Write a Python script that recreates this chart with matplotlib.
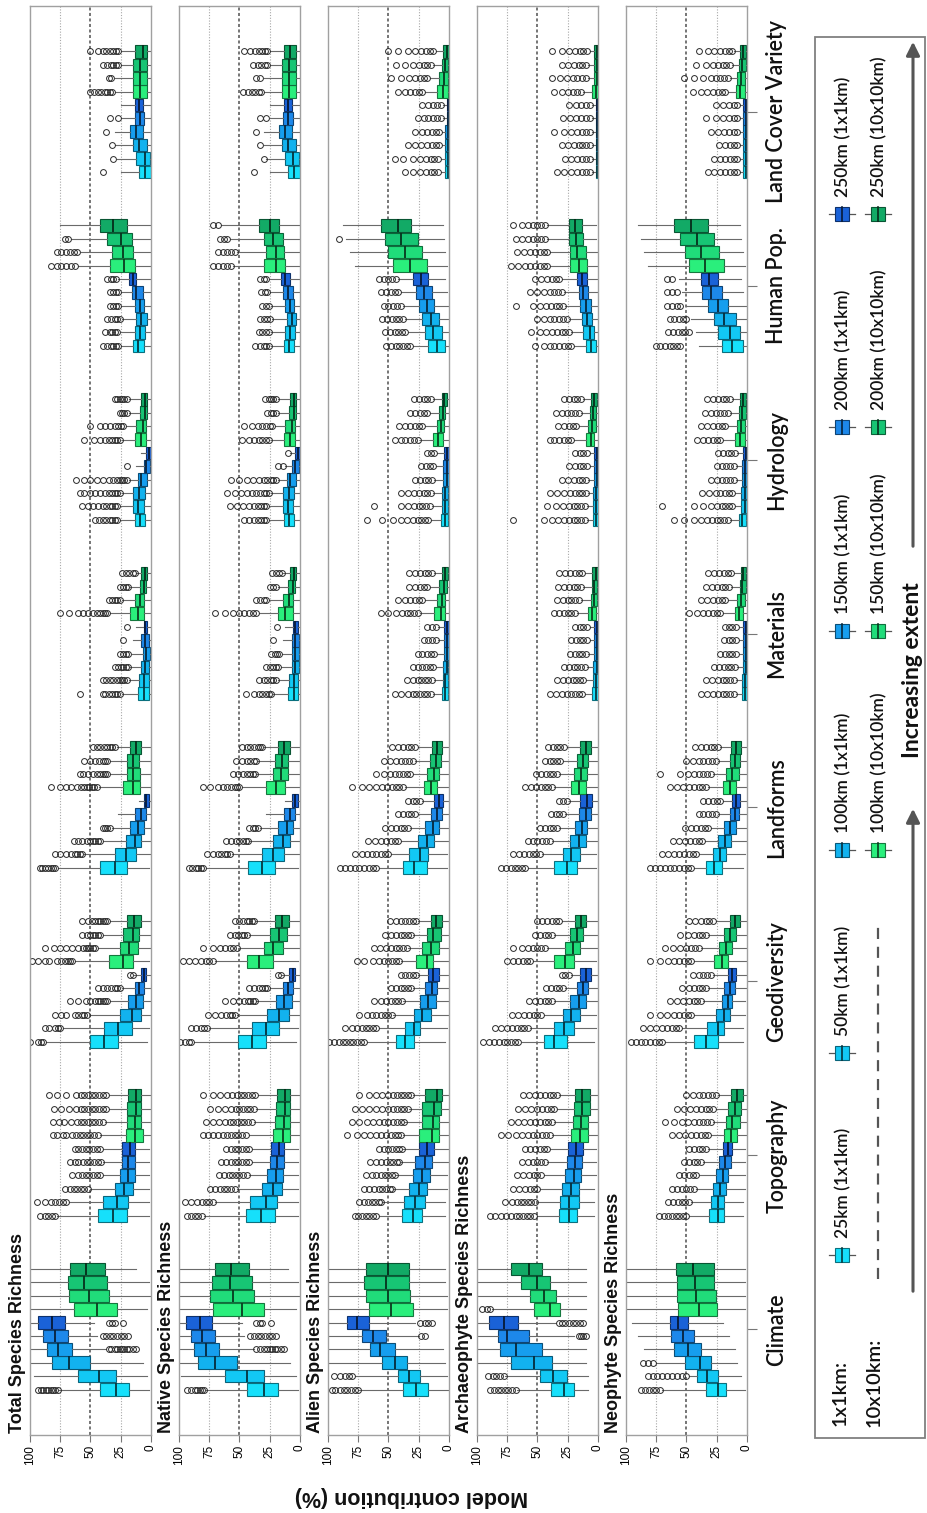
import matplotlib
matplotlib.use("Agg")
import matplotlib.pyplot as plt
from matplotlib.patches import Rectangle, FancyArrowPatch
from matplotlib.lines import Line2D
from matplotlib.transforms import blended_transform_factory
import matplotlib.colors as mcolors
import numpy as np

# ---------------- data ----------------
CATEGORIES = ["Climate", "Topography", "Geodiversity", "Landforms", "Materials",
              "Hydrology", "Human Pop.", "Land Cover Variety"]
SERIES = ["25km (1x1km)", "50km (1x1km)", "100km (1x1km)", "150km (1x1km)",
          "200km (1x1km)", "250km (1x1km)", "100km (10x10km)", "150km (10x10km)",
          "200km (10x10km)", "250km (10x10km)"]
PANEL_TITLES = ["Total Species Richness", "Native Species Richness", "Alien Species Richness",
                "Archaeophyte Species Richness", "Neophyte Species Richness"]
VALUE_TICKS = [0, 25, 50, 75, 100]

# --- Total species richness ---
TOTAL_Q3 = [[42,60,82,86,89,93, 64,68,69,67],[44,40,30,26,24,24, 21,20,20,19],[50,39,26,19,13,8, 35,26,23,20],
            [42,30,21,17,13,6, 23,20,20,17],[11,10,8,7,8,6, 17,13,9,8],[13,15,15,11,6,4, 13,12,9,8],
            [15,13,12,13,16,18, 34,32,36,42],[10,12,15,17,13,13, 15,15,15,13]]
TOTAL_MED = [[29,43,68,77,79,82, 45,51,55,54],[31,28,22,19,19,17, 13,13,12,12],[39,27,16,12,10,6, 23,18,15,14],
             [30,21,13,11,8,4, 15,15,15,12],[6,6,5,4,5,5, 11,9,6,5],[9,11,10,8,4,2, 8,7,5,5],
             [11,9,8,9,12,15, 22,23,25,31],[5,5,10,12,9,10, 9,9,9,7]]
TOTAL_Q1 = [[18,29,50,65,69,71, 28,35,36,38],[20,19,15,13,13,13, 7,8,8,8],[27,16,8,7,6,4, 15,11,10,8],
            [20,12,8,6,4,2, 9,9,10,8],[2,2,2,1,2,3, 6,6,4,3],[5,6,5,3,1,0, 4,4,3,3],
            [6,5,3,6,7,12, 13,15,16,20],[0,1,3,7,6,7, 3,3,3,3]]
TOTAL_WHI = [[76,97,100,100,100,100, 100,100,100,100],[78,68,50,40,40,40, 42,38,35,35],[87,73,50,34,24,14, 63,44,40,34],
             [77,55,40,32,27,10, 43,34,34,28],[24,18,17,16,15,12, 34,24,17,12],[26,26,24,18,12,8, 24,21,18,18],
             [25,25,24,25,25,27, 60,58,66,75],[25,28,30,30,25,25, 30,30,25,25]]
TOTAL_WLO = [[2,3,7,37,45,47, 3,0,2,12],[2,2,2,2,2,2, 1,1,1,1],[3,2,1,1,1,1, 2,1,1,1],[2,1,1,1,1,0, 1,1,1,1],
             [0,0,0,0,0,0, 0,0,0,0],[0,0,0,0,0,0, 0,0,0,0],[0,0,0,0,0,0, 1,1,1,0],[0,0,0,0,0,0, 0,0,0,0]]
TOTAL_OUT = [
    [[77,79,81,83,85,87,89,91,93],[],[],[12,15,18,20,22,24,26,28,30,33,35],[19,22,25,28,31,34,37,40],[23,30,32,35],[],[],[],[]],
    [[79,82,85,88,92],[70,73,76,79,83,88,94],[52,55,58,61,64,67,71],[42,45,48,51,54,57,60,65],[41,44,47,50,53,56,60,63,67],
     [42,45,48,51,54,57,60,63],[44,47,50,53,56,59,62,65,70,73,78,81],[40,43,46,49,52,55,58,61,66,72,76,81],
     [37,40,43,46,49,52,55,58,62,68,74,80],[37,40,43,46,49,52,55,58,62,70,78,84]],
    [[89,91,93,100],[75,77,79,84,88],[53,55,57,60,63,70,74,79],[36,38,40,42,44,46,50,54,60,67],[26,28,30,33,36,40,44],[15,17],
     [65,67,69,71,74,78,84,88,93,98],[46,48,50,52,54,56,60,65,70,75,80,88],[42,44,46,48,50,53,57],[36,38,40,42,44,46,49,52,57]],
    [[79,81,83,85,88,90,92],[57,59,61,63,66,70,75,79],[42,44,46,48,50,53,57,60,64],[34,36,38,40],[],[],
     [45,47,49,51,53,55,58,61,66,70,75,83],[36,38,40,42,45,48,52,56,59],[36,38,40,43,46,50,55],[30,32,34,36,39,42,45,48]],
    [[26,28,30,32,35,38,40,59],[20,22,24,26,28,31,34,37,40],[19,21,23,25,27,30],[19,21,23,26],[23],[20],
     [36,38,40,42,45,48,52,56,60,68,75],[26,28,30,32,35],[19,21,23,26],[13,15,18,21,24]],
    [[28,30,32,34,37,40,43,46],[28,30,32,34,37,40,44,48,52,57],[26,28,30,32,35,38,42,46,50,55,59],
     [20,22,24,26,28,31,35,40,45,50,55,62],[20],[],[26,28,30,32,35,38,42,47,55],[23,25,27,30,34,38,42,50],[20,22,24,26],[20,22,24,26,28,30]],
    [[27,29,31,33,36,40],[28,30,32,34,38],[26,28,30,33,36],[27,29,31,34],[27,29,31,34],[29,31,33,36],
     [63,66,70,74,78,83],[61,64,67,70,74,78],[69,71],[]],
    [[40],[31],[32],[37],[27,34],[],[32,34,36,38,41,44,47,50],[33,35],[27,29,31,33,36,40],[27,29,31,34,37,40,44,50]],
]

# --- Native species richness ---
NATIVE_Q3 = [[44,62,84,88,90,94, 72,74,73,70],[45,41,31,27,25,24, 22,21,20,19],[51,40,27,20,14,9, 44,30,25,21],
             [43,31,22,18,13,7, 28,22,21,18],[10,9,7,7,7,6, 18,14,10,8],[13,14,14,11,7,4, 13,12,9,8],
             [13,12,11,12,14,16, 30,28,30,34],[10,12,15,17,14,13, 15,15,15,13]]
NATIVE_MED = [[30,44,70,78,81,83, 48,55,58,57],[32,28,22,20,19,17, 14,13,12,12],[40,28,17,13,10,6, 34,22,17,15],
              [31,22,14,11,8,4, 20,16,15,13],[5,5,4,4,4,4, 12,9,6,5],[9,10,9,8,4,2, 8,7,5,5],
              [9,8,7,8,10,12, 20,20,22,25],[5,6,10,12,10,10, 9,9,9,8]]
NATIVE_Q1 = [[18,30,52,67,70,73, 30,38,40,42],[21,19,15,14,13,13, 8,8,8,8],[28,17,9,7,6,4, 22,14,11,9],
             [21,13,8,6,4,2, 12,10,10,8],[2,2,1,1,1,2, 6,6,4,3],[5,6,5,3,1,0, 4,4,3,3],
             [5,4,3,5,6,8, 12,13,14,17],[0,1,3,7,6,7, 3,3,3,3]]
NATIVE_WHI = [[78,98,100,100,100,100, 100,100,100,100],[79,70,52,42,40,40, 42,38,36,35],[88,75,52,36,25,15, 70,50,42,36],
              [78,56,42,33,28,12, 48,36,35,30],[22,18,16,15,14,12, 34,26,18,14],[26,26,24,18,12,8, 24,21,18,18],
              [24,24,23,24,25,26, 55,52,58,65],[25,28,30,30,25,25, 30,30,25,25]]
NATIVE_WLO = [[2,3,8,38,46,48, 3,1,2,10],[2,2,2,2,2,2, 1,1,1,1],[3,2,1,1,1,1, 2,1,1,1],[2,1,1,1,1,0, 1,1,1,1],
              [0,0,0,0,0,0, 0,0,0,0],[0,0,0,0,0,0, 0,0,0,0],[0,0,0,0,0,0, 1,1,1,0],[0,0,0,0,0,0, 0,0,0,0]]
NATIVE_OUT = [
    [[79,81,83,85,87,90,93],[],[],[13,16,19,21,23,25,27,30,33,36],[20,23,26,29,32,35,38,41],[24,31,33,36],[],[],[],[]],
    [[81,84,87,90,93],[72,75,78,81,85,90,95],[54,57,60,63,66,70,74],[44,47,50,53,56,59,63,67],[42,45,48,51,54,57,61,65],
     [42,45,48,51,54,57,61],[45,48,51,54,57,60,64,68,72,76,80],[40,43,46,49,52,55,58,62,67,72,78],
     [38,41,44,47,50,53,57,62,68,74],[37,40,43,46,49,52,56,60,66,72,80]],
    [[90,92,95,99],[77,79,82,86,90],[54,56,58,61,65,70,76],[37,39,41,43,46,50,55,62],[27,29,31,34,38,42],[16,18],
     [72,75,78,82,87,92,97],[52,55,58,62,66,72,80],[44,46,48,51,54,58],[38,40,42,44,47,50,54]],
    [[80,82,84,86,89,92],[58,60,62,65,68,72,77],[43,45,47,50,53,57,61],[35,37,39,42],[],[],
     [50,52,54,57,60,64,68,74,80],[37,39,41,44,47,51,55],[36,38,41,44,48,53],[31,33,35,38,41,44,48]],
    [[24,26,28,31,34,38,45],[20,22,24,27,30,34],[18,20,22,25,28],[17,19,21,24],[22],[19],
     [36,39,42,46,50,55,62,70],[28,30,33,36],[20,22,25],[15,17,20,23]],
    [[28,30,32,35,38,42,46],[28,30,32,35,38,42,47,52,58],[26,28,30,33,36,40,44,49,54,60],[20,22,24,27,30,34,39,44,50,57],
     [14,18],[10],[26,28,31,34,38,42,48],[23,25,28,31,35,40,46],[20,22,24,27],[20,22,24,26,29]],
    [[26,28,30,33,37],[26,28,31,34],[25,27,30,33],[26,28,31],[27,29,32],[28,30,33],
     [57,60,64,68,72],[54,57,60,64,68],[60,63,66],[68,72]],
    [[38],[30],[33],[36],[28,33],[],[32,34,37,40,43,47],[33,36],[27,29,32,35,39],[27,29,31,34,37,41,46]],
]

# --- Alien species richness ---
ALIEN_Q3 = [[38,42,55,65,72,84, 66,69,70,69],[39,37,33,30,28,25, 25,22,22,20],[44,36,29,24,20,17, 27,22,18,15],
            [38,33,26,20,15,12, 21,18,16,14],[6,5,5,4,4,4, 12,10,8,6],[7,6,6,5,5,4, 13,10,8,6],
            [17,20,22,25,27,30, 46,50,53,56],[3,3,3,3,2,2, 10,8,6,5]]
ALIEN_MED = [[27,33,45,57,63,76, 48,50,52,50],[30,28,25,22,20,18, 14,13,12,10],[36,29,22,17,14,13, 18,15,13,11],
             [29,24,18,13,10,8, 15,12,11,10],[3,3,2,2,2,2, 7,6,4,3],[3,3,3,2,2,2, 9,7,5,4],
             [10,13,15,18,21,23, 32,36,40,42],[1,1,1,1,1,1, 5,4,3,2]]
ALIEN_Q1 = [[17,24,35,45,52,66, 30,32,33,33],[22,20,18,16,14,12, 8,8,7,6],[29,24,15,11,10,8, 13,8,7,6],
            [18,17,12,8,6,5, 10,8,7,6],[1,1,1,0,0,0, 3,3,2,1],[1,1,1,0,0,0, 5,4,3,2],
            [3,6,8,12,14,17, 18,22,26,31],[0,0,0,0,0,0, 1,1,1,0]]
ALIEN_WHI = [[74,78,100,100,100,100, 100,100,100,100],[58,55,46,44,40,38, 38,36,33,30],[68,58,46,38,30,26, 40,34,30,26],
             [58,48,40,32,26,22, 36,30,28,26],[13,12,11,10,9,9, 24,20,16,12],[15,14,13,12,11,10, 24,20,16,13],
             [30,34,36,38,40,42, 78,82,85,88],[7,7,6,6,5,5, 20,16,13,11]]
ALIEN_WLO = [[1,2,3,5,25,28, 2,2,3,3],[3,3,2,2,1,1, 0,0,0,0],[3,2,1,1,1,1, 1,0,0,0],[2,2,1,0,0,0, 1,0,0,0],
             [0,0,0,0,0,0, 0,0,0,0],[0,0,0,0,0,0, 0,0,0,0],[0,0,0,1,2,3, 2,3,4,5],[0,0,0,0,0,0, 0,0,0,0]]
ALIEN_OUT = [
    [[75,78,81,84,87,90,94,97],[80,83,86,90,95],[],[],[20,23],[14,17,20,24],[],[],[],[]],
    [[60,63,66,69,72,75,78],[56,58,61,64,67,70,74],[47,49,52,55,58,62,66,70],[45,47,50,53,56,60,64,69],[41,43,46,49,52,56,60,65],
     [39,41,44,47,50,54,58],[40,42,45,48,52,56,60,65,70,76,84],[37,40,43,46,50,54,58,63,68,74,80],
     [34,37,40,43,46,50,55,60,66,72,78],[31,34,37,40,43,46,50,55,60,66,74]],
    [[70,73,76,79,82,85,88,91,95,99],[60,63,66,69,72,76,80,86],[47,50,53,56,60,64,68,74],[39,42,45,48,52,56,62],[31,34,37,40,44,48],
     [27,30,33,36,40],[41,44,47,50,54,58,63,70,76],[35,38,41,44,48,52,57,62],[31,34,37,40,44,48,53],[27,30,33,36,40,44,49]],
    [[60,63,66,70,74,78,82,86,90],[50,53,56,60,64,68,72,78],[42,45,48,52,56,61,67],[34,37,40,44,48,53],[28,31,34,38,42],[24,27,30,34],
     [38,41,44,47,51,55,60,66,72,80],[32,35,38,41,45,49,54,60],[30,33,36,40,44,49,54],[28,31,34,38,42,47]],
    [[15,18,21,24,27,30,34,40,45],[14,17,20,23,26,30,35],[13,16,19,22,26,30],[12,15,18,22,26],[11,14,17,21],[11,14,18],
     [26,29,32,35,39,44,50,56],[22,25,28,32,36,42],[18,21,24,28,33],[14,17,20,24,28,33]],
    [[17,20,23,26,30,35,40,46,55,68],[16,19,22,25,29,34,40,62],[15,18,21,25,29,34,40],[14,17,20,24,28],[13,16,19,23],[12,15,18],
     [26,29,32,36,40,45],[22,25,28,32,36,41],[18,21,24,28,32],[15,18,21,25,29]],
    [[32,35,38,41,44,48,52],[36,39,42,45,49,53],[38,41,44,47,51,55],[40,43,46,50,54],[42,45,48,52,56],[44,47,50,54,58],
     [],[],[91],[]],
    [[9,12,15,19,24,30,36],[9,12,15,19,24,30,38,45],[8,11,14,18,23,28,34],[8,11,14,18,22,28],[7,10,13,17,21,26],[7,10,13,17,22],
     [22,25,28,32,36,42],[18,21,24,28,33,40,48],[15,18,21,25,30,36,44],[13,16,19,23,28,34,42,50]],
]

# --- Archaeophyte species richness ---
ARCH_Q3 = [[39,48,72,81,83,90, 53,56,64,72],[32,31,30,27,26,25, 22,21,20,19],[45,36,29,23,17,15, 36,27,23,19],
           [36,29,23,19,16,15, 22,20,17,15],[5,4,4,3,3,3, 8,6,5,5],[4,4,4,3,3,3, 10,8,7,6],
           [10,12,13,15,16,17, 23,23,24,24],[2,2,2,2,2,2, 5,3,3,3]]
ARCH_MED = [[28,37,53,68,75,78, 40,45,50,57],[24,24,22,20,19,18, 15,14,13,13],[36,28,22,16,12,10, 27,21,17,14],
            [26,22,16,13,10,9, 16,14,12,10],[2,2,1,1,1,1, 5,3,3,2],[2,2,2,1,1,1, 6,5,4,3],
            [6,7,9,10,12,13, 16,17,18,19],[1,1,1,1,1,1, 2,1,1,1]]
ARCH_Q1 = [[20,26,38,46,57,66, 31,35,40,46],[17,16,16,14,13,12, 8,8,7,7],[26,20,15,10,8,6, 20,15,12,10],
           [17,15,10,9,6,5, 10,9,8,6],[0,0,0,0,0,0, 2,1,1,0],[0,0,0,0,0,0, 3,2,2,1],
           [2,3,5,6,8,9, 9,10,12,13],[0,0,0,0,0,0, 0,0,0,0]]
ARCH_WHI = [[67,77,100,100,100,100, 88,100,100,100],[50,50,48,45,42,40, 38,36,34,32],[63,56,45,36,27,22, 54,42,36,30],
            [58,46,38,32,27,24, 36,32,29,26],[11,10,9,8,7,7, 17,14,12,11],[9,9,8,8,7,7, 20,16,14,12],
            [20,22,24,27,28,30, 40,40,42,42],[5,5,5,5,5,5, 12,8,8,7]]
ARCH_WLO = [[8,8,10,10,20,35, 10,10,10,10],[3,3,3,2,2,2, 1,1,1,1],[3,2,2,1,1,1, 2,1,1,1],[2,2,1,1,0,0, 1,1,1,0],
            [0,0,0,0,0,0, 0,0,0,0],[0,0,0,0,0,0, 0,0,0,0],[0,0,0,0,1,1, 1,1,2,2],[0,0,0,0,0,0, 0,0,0,0]]
ARCH_OUT = [
    [[68,71,74,77,80,83,86,89],[78,81,84,87,91],[],[],[10,12,14,16],[12,15,18,21,24,27,30,32],[89,92,96],[],[],[]],
    [[53,56,59,62,65,68,72,76,80,85,89],[52,55,58,61,64,67,71,77],[50,53,56,60,65,70],[47,50,53,57,62,67],[44,47,50,54,58,63],
     [42,45,48,52,56,60],[40,43,46,50,54,58,63,68,74,80],[38,41,44,48,52,56,61,66,72],[36,39,42,46,50,55,60,66],[34,37,40,44,48,52,57,62]],
    [[66,69,72,75,78,82,86,90,95],[58,61,64,67,71,75,80,85],[47,50,53,57,61,66,71],[38,41,44,48,52,57],[29,32,35,39,43],[24,27,30],
     [56,59,62,66,70,75],[44,47,50,54,58,63,70],[38,41,44,48,52],[32,35,38,42,46,50]],
    [[60,63,66,69,72,76,80],[48,51,54,57,61,65,70],[40,43,46,50,54,58],[34,37,40,44,48],[29,32,35,39],[26,29,32],
     [38,41,44,47,51,55,60],[34,37,40,43,47,51],[31,34,37,40,44],[28,31,34,37,41]],
    [[13,16,19,22,26,30,35,40],[12,15,18,21,25,29,34],[11,14,17,20,24,28],[10,13,16,19,23],[9,12,15,18,22],[9,12,15,19],
     [19,22,25,28,32,36],[16,19,22,25,29,34],[14,17,20,24,28,33],[13,16,19,23,27,32]],
    [[11,14,17,20,24,28,33,38,45,70],[11,14,17,20,24,29,35,42],[10,13,16,19,23,28,34,40],[10,13,16,20,25,30],[9,12,15,19,24],[9,12,15,19],
     [22,25,28,32,36,40],[18,21,24,28,33],[16,19,22,26,30,35],[14,17,20,24,28]],
    [[22,25,28,32,36,40,45,52],[24,27,30,34,38,43,48,55],[26,29,32,36,40,45,50],[29,32,35,39,43,48,54,68],[30,33,36,40,45,50,56],
     [32,35,38,42,47,52],[42,45,48,52,56,60,66,72],[42,45,48,52,56,61,67],[44,47,50,54,58,63,68],[44,47,50,54,58,63,70]],
    [[7,10,13,17,22,28,34],[7,10,13,17,22,27],[7,10,13,16,20,25,30],[7,10,13,17,22,28,36],[7,10,14,18,23,29],[7,10,14,18,24],
     [14,17,21,25,30,36],[10,13,17,21,26,31,38],[10,13,16,20,25,30],[9,12,15,19,24,30,38]],
]

# --- Neophyte species richness ---
NEO_Q3 = [[34,41,51,60,63,64, 57,58,58,59],[31,30,28,26,23,20, 19,17,16,13],[44,33,26,21,19,16, 27,23,19,14],
          [34,28,24,19,14,12, 20,17,14,13],[4,4,3,3,3,3, 10,8,6,5],[7,5,5,4,4,3, 10,8,7,6],
          [21,24,27,32,37,38, 48,51,55,60],[3,3,3,3,3,3, 9,8,7,6]]
NEO_MED = [[24,33,39,49,53,57, 40,42,43,45],[24,24,22,20,18,16, 13,12,10,8],[34,24,19,16,14,12, 21,17,14,10],
           [27,22,18,14,10,9, 14,12,10,9],[2,2,1,1,1,1, 7,5,4,3],[4,2,2,2,2,1, 6,5,4,3],
           [12,14,19,24,30,31, 35,38,41,46],[1,1,1,1,1,1, 6,5,4,3]]
NEO_Q1 = [[17,24,30,38,44,49, 25,26,27,27],[19,19,17,16,13,12, 8,6,5,3],[24,19,14,12,10,9, 16,12,9,6],
          [21,17,13,9,7,6, 9,7,6,5],[0,0,0,0,0,0, 3,2,1,1],[1,0,0,0,0,0, 2,2,1,1],
          [3,6,9,16,21,24, 19,23,27,32],[0,0,0,0,0,0, 2,2,1,1]]
NEO_WHI = [[70,48,75,85,90,95, 100,100,100,100],[48,46,42,40,36,32, 30,28,26,24],[68,54,44,36,32,28, 44,38,32,26],
           [44,40,35,30,24,20, 32,28,24,22],[9,9,8,7,7,7, 20,16,13,11],[14,10,10,9,9,8, 20,16,14,12],
           [40,42,46,50,54,56, 82,85,88,90],[6,6,6,6,6,6, 16,14,12,11]]
NEO_WLO = [[2,5,8,10,15,20, 2,2,2,2],[3,3,2,2,2,2, 0,0,0,0],[3,3,2,2,1,1, 1,1,0,0],[3,2,1,1,0,0, 0,0,0,0],
           [0,0,0,0,0,0, 0,0,0,0],[0,0,0,0,0,0, 0,0,0,0],[0,0,0,1,3,5, 2,3,5,6],[0,0,0,0,0,0, 0,0,0,0]]
NEO_OUT = [
    [[72,75,78,81,84,88],[50,54,58,62,66,70,74,78,82],[78,82,86],[],[],[],[],[],[],[]],
    [[50,53,56,59,62,65,69,73],[48,51,54,57,61,65],[44,47,50,54,58,62],[42,45,48,52,56],[38,41,44,48,52],[34,37,40,44,48],
     [32,35,38,42,46,51,56,62],[30,33,36,40,44,49,54,60,68],[28,31,34,38,42,47,52,58],[26,29,32,36,40,45,50]],
    [[70,73,76,80,84,88,92,96],[56,59,62,66,70,75,80,86],[46,49,52,56,60,66,72,80],[38,41,44,48,53,58,64],[34,37,40,44,48,54],
     [30,33,36,40,45],[46,49,52,56,60,65,72,80],[40,43,46,50,55,61,68],[34,37,40,44,49,55],[28,31,34,38,43,48]],
    [[46,49,52,56,60,64,68,72,76,80],[42,45,48,52,56,60,65,70],[37,40,43,47,51,56,61],[32,35,38,42,46,51],[26,29,32,36,40],
     [22,25,28,32,36],[34,37,40,44,48,53,58,64],[30,33,36,40,44,49,55,72],[26,29,32,36,40,45,50],[24,27,30,34,38,43]],
    [[11,14,17,20,24,28,33,38],[11,14,17,20,24,29,34],[10,13,16,19,23,27],[9,12,15,18,22],[9,12,15,19],[9,12,15,18],
     [22,25,28,32,36,41,48],[18,21,24,28,33,38],[15,18,21,25,29,34],[13,16,19,23,27,32]],
    [[16,19,22,25,29,33,38,44,52,60],[12,15,18,21,25,30,36,44,70],[12,15,18,22,26,31,37],[11,14,17,21,25,30],[11,14,17,21,25],
     [10,13,16,20,24],[22,25,28,32,36,41],[18,21,24,28,33,38],[16,19,22,26,30,35],[14,17,20,24,28,33]],
    [[55,58,61,64,68,72,75],[48,51,54,57,61,65],[50,53,56,60,64],[55,58,62,66],[58,62,66],[62,66],[],[],[],[]],
    [[8,11,14,18,22,27,32],[8,11,14,18,22,27],[8,11,14,18,23],[8,11,15,19,24,30],[8,11,15,20,26,34],[8,11,15,20,26],
     [18,21,24,28,33,38,45],[16,19,22,26,30,36,44,52],[14,17,20,24,28,34,42],[12,15,18,22,27,32,40]],
]

PANELS = [
    (TOTAL_Q1, TOTAL_MED, TOTAL_Q3, TOTAL_WLO, TOTAL_WHI, TOTAL_OUT),
    (NATIVE_Q1, NATIVE_MED, NATIVE_Q3, NATIVE_WLO, NATIVE_WHI, NATIVE_OUT),
    (ALIEN_Q1, ALIEN_MED, ALIEN_Q3, ALIEN_WLO, ALIEN_WHI, ALIEN_OUT),
    (ARCH_Q1, ARCH_MED, ARCH_Q3, ARCH_WLO, ARCH_WHI, ARCH_OUT),
    (NEO_Q1, NEO_MED, NEO_Q3, NEO_WLO, NEO_WHI, NEO_OUT),
]

# ---------------- style ----------------
SERIES_COLORS = ["#16e0fb", "#12c8f4", "#12b2ef", "#169eee", "#1d88ea", "#1a62d8",
                 "#2aef7c", "#20dc7a", "#17c574", "#12aa66"]
ARIAL = ["Liberation Sans", "DejaVu Sans"]
CALIBRI = ["Lato", "DejaVu Sans"]

W, H = 928, 1513
fig = plt.figure(figsize=(W / 100, H / 100), dpi=100)
fig.patch.set_facecolor("white")

AX_TOP, AX_BOT = 6, 1435
GROUP_STEP = 13
YLIM = (-3.4, 103.4)


def darker(c, f):
    r, g, b = mcolors.to_rgb(c)
    return (r * f, g * f, b * f)


axes = []
for p in range(5):
    left = 30 + 149 * p
    ax = fig.add_axes([left / W, 1 - AX_BOT / H, 121 / W, (AX_BOT - AX_TOP) / H])
    axes.append(ax)
    q1s, meds, q3s, wlos, whis, outs = PANELS[p]
    stats, positions = [], []
    for g in range(len(CATEGORIES)):
        for i in range(len(SERIES)):
            stats.append(dict(med=meds[g][i], q1=q1s[g][i], q3=q3s[g][i],
                              whislo=wlos[g][i], whishi=whis[g][i],
                              fliers=np.array(outs[g][i], dtype=float)))
            positions.append(g * GROUP_STEP + i)
    # grid lines
    for v in (25, 75):
        ax.axvline(v, color="#a8a8a8", lw=0.8, ls=(0, (1, 1.5)), zorder=0.5)
    ax.axvline(50, color="#505050", lw=1.1, ls=(0, (2, 1.6)), zorder=0.5)
    art = ax.bxp(stats, positions=positions, widths=0.94, orientation="horizontal",
                 patch_artist=True, showcaps=False, manage_ticks=False,
                 flierprops=dict(marker="o", markersize=4.2, markerfacecolor="none",
                                 markeredgecolor="#2a2a2a", markeredgewidth=0.7),
                 whiskerprops=dict(color="#6a6a6a", lw=0.8),
                 medianprops=dict(color="#1a1a1a", lw=1.3),
                 boxprops=dict(lw=0.8))
    for k, b in enumerate(art["boxes"]):
        col = SERIES_COLORS[k % len(SERIES)]
        b.set_facecolor(col)
        b.set_edgecolor(darker(col, 0.5))
    for k, m in enumerate(art["medians"]):
        m.set_color(darker(SERIES_COLORS[k % len(SERIES)], 0.25))
    ax.set_xlim(100, 0)
    ax.set_ylim(*YLIM)
    ax.set_xticks(VALUE_TICKS)
    ax.set_xticklabels([str(v) for v in VALUE_TICKS], rotation=90, fontsize=8.5, family=ARIAL)
    ax.tick_params(axis="x", direction="out", length=5, width=0.8, color="#777777", pad=2)
    for s in ax.spines.values():
        s.set_color("#a0a0a0")
        s.set_linewidth(1.0)
    centers = [g * GROUP_STEP + 4.5 for g in range(len(CATEGORIES))]
    if p == 4:
        ax.yaxis.tick_right()
        ax.set_yticks(centers)
        ax.set_yticklabels([])
        ax.tick_params(axis="y", direction="out", length=7, width=0.8, color="#777777")
        tr = blended_transform_factory(fig.transFigure, ax.transData)
        for g, name in enumerate(CATEGORIES):
            ax.text(777 / W, centers[g], name, transform=tr, rotation=90, ha="center",
                    va="center", fontsize=15.5, fontweight="semibold", family=CALIBRI,
                    color="#111111")
    else:
        ax.set_yticks([])

# ---------------- overlay (titles, labels, legend) ----------------
ov = fig.add_axes([0, 0, 1, 1])
ov.set_xlim(0, W)
ov.set_ylim(H, 0)
ov.axis("off")
ov.patch.set_alpha(0)

for p, title in enumerate(PANEL_TITLES):
    ov.text(18 + 149 * p, 1433, title, rotation=90, ha="center", va="bottom",
            fontsize=13, fontweight="bold", family=ARIAL, color="#111111")

ov.text(411, 1497, "Model contribution (%)", rotation=180, ha="center", va="center",
        fontsize=15.5, fontweight="bold", family=ARIAL, color="#111111")

# legend frame
ov.add_patch(Rectangle((815, 37), 110, 1401, fill=False, edgecolor="#808080", lw=1.3))

ROW1_X, ROW2_X, ROW3_X = 842, 878, 913
ICON_Y = [1255, 1053, 850, 631, 427, 214]


def legend_icon(xc, yc, col):
    ov.add_line(Line2D([xc - 13, xc + 13], [yc, yc], color="#555555", lw=0.9, zorder=3))
    ov.add_patch(Rectangle((xc - 7, yc - 7), 14, 14, facecolor=col,
                           edgecolor=darker(col, 0.5), lw=0.8, zorder=4))
    ov.add_line(Line2D([xc, xc], [yc - 7, yc + 7], color=darker(col, 0.25), lw=1.2, zorder=5))


ov.text(ROW1_X - 2, 1426, "1x1km:", rotation=90, ha="center", va="bottom",
        fontsize=14.5, fontweight="semibold", family=CALIBRI, color="#111111")
ov.text(ROW2_X - 4, 1427, "10x10km:", rotation=90, ha="center", va="bottom",
        fontsize=14.5, fontweight="semibold", family=CALIBRI, color="#111111")
for i in range(6):
    legend_icon(ROW1_X, ICON_Y[i], SERIES_COLORS[i])
    ov.text(ROW1_X + 1, ICON_Y[i] - 17, SERIES[i], rotation=90, ha="center", va="bottom",
            fontsize=12.5, fontweight="semibold", family=CALIBRI, color="#111111")
ov.add_line(Line2D([ROW2_X, ROW2_X], [1279, 925], color="#555555", lw=1.6, ls=(0, (5, 3.5))))
for j in range(4):
    yc = ICON_Y[2 + j]
    legend_icon(ROW2_X, yc, SERIES_COLORS[6 + j])
    ov.text(ROW2_X + 1, yc - 17, SERIES[6 + j], rotation=90, ha="center", va="bottom",
            fontsize=12.5, fontweight="semibold", family=CALIBRI, color="#111111")

for (y0, y1) in ((1294, 806), (549, 39)):
    ov.add_patch(FancyArrowPatch((ROW3_X, y0), (ROW3_X, y1), arrowstyle="-|>",
                                 mutation_scale=20, lw=2.2, color="#555555"))
ov.text(ROW3_X, 670, "Increasing extent", rotation=90, ha="center", va="center",
        fontsize=16.5, fontweight="bold", family=CALIBRI, color="#111111")

fig.savefig("out.png", dpi=100, facecolor="white")
